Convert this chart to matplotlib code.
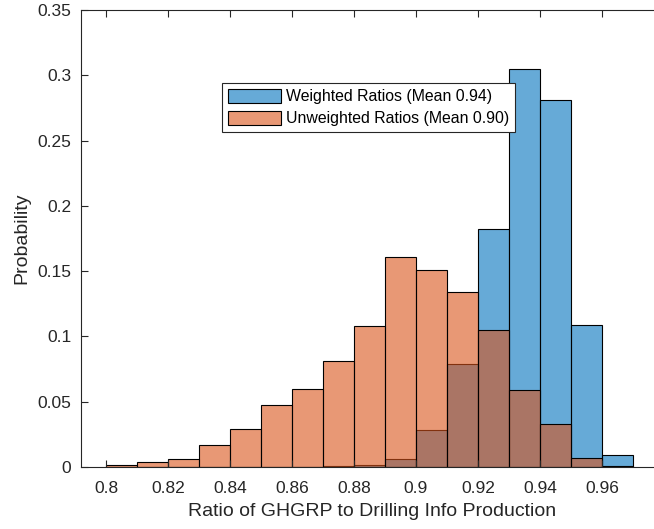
#Histogram of GHGRP / Drilling Info production ratios (weighted vs unweighted)

import numpy as np
import matplotlib.pyplot as plt

plt.rcParams['font.family'] = ['Liberation Sans', 'DejaVu Sans']

#Bin edges (width 0.01)
edges = np.round(np.arange(0.80, 0.9701, 0.01), 2)

#Probabilities per bin
weighted = [0, 0, 0, 0, 0, 0, 0, 0.0010, 0.0013, 0.0061, 0.0286, 0.0789,
	0.1822, 0.3047, 0.2808, 0.1090, 0.0092]
unweighted = [0.0015, 0.0036, 0.0064, 0.0170, 0.0293, 0.0472, 0.0597, 0.0814,
	0.1077, 0.1606, 0.1508, 0.1337, 0.1051, 0.0590, 0.0332, 0.0066, 0.0008]

label_w = 'Weighted Ratios (Mean 0.94)'
label_u = 'Unweighted Ratios (Mean 0.90)'

blue = (0, 0.447, 0.741)
orange = (0.85, 0.325, 0.098)
axcol = (0.15, 0.15, 0.15)

fig = plt.figure(figsize=(6.54, 5.29), dpi=100)
#the right side of the axes is cut by the figure edge, as in the original
ax = fig.add_axes([81/654., 1-467/529., (664-81)/654., (467-10)/529.])

centers = edges[:-1]
ax.hist(centers, bins=edges, weights=weighted, facecolor=blue+(0.6,),
	edgecolor='black', linewidth=0.8, label=label_w)
ax.hist(centers, bins=edges, weights=unweighted, facecolor=orange+(0.6,),
	edgecolor='black', linewidth=0.8, label=label_u)

ax.set_xlim(0.8-25/3100., 0.98)
ax.set_ylim(0, 0.35)
ax.set_xticks(np.round(np.arange(0.80, 0.961, 0.02), 2))
ax.set_xticklabels(['0.8', '0.82', '0.84', '0.86', '0.88', '0.9', '0.92', '0.94', '0.96'])
ax.set_yticks(np.round(np.arange(0, 0.351, 0.05), 2))
ax.set_yticklabels(['0', '0.05', '0.1', '0.15', '0.2', '0.25', '0.3', '0.35'])

ax.tick_params(direction='in', length=5, width=0.8, colors=axcol,
	labelsize=12.5, top=True, right=False)
ax.tick_params(axis='x', pad=10)
ax.tick_params(axis='y', pad=7)
for s in ['left', 'bottom', 'top']:
	ax.spines[s].set_color(axcol)
	ax.spines[s].set_linewidth(0.8)
ax.spines['right'].set_visible(False)

ax.set_xlabel('Ratio of GHGRP to Drilling Info Production', fontsize=14, color=axcol, labelpad=5)
ax.set_ylabel('Probability', fontsize=14, color=axcol, labelpad=5)

leg = ax.legend(loc='upper left', bbox_to_anchor=((222-81)/583., 1-(83-10)/457.),
	fontsize=11.4, frameon=True, fancybox=False, edgecolor=axcol, framealpha=1,
	handlelength=3.4, handleheight=1.05, handletextpad=0.3, borderpad=0.35,
	labelspacing=0.4, borderaxespad=0)
leg.get_frame().set_linewidth(0.8)
leg.set_zorder(5)

plt.savefig('out.png', dpi=100)
